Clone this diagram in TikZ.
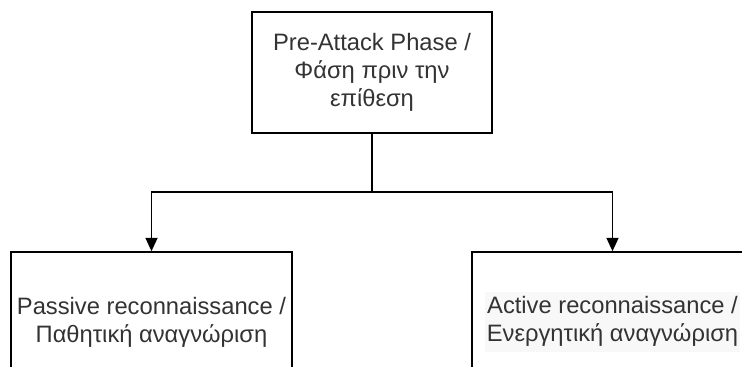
\documentclass[tikz,border=0pt]{standalone}
\usepackage{fontspec}
\setmainfont{Liberation Sans}
\usepackage{xcolor}
\usepackage{tikz}
\usetikzlibrary{positioning, arrows.meta}
\definecolor{InkGry} {HTML}{333333}
\definecolor{HiGry}  {HTML}{F8F8F8}
\tikzset{
  phasebox/.style={draw=black, line width=1.2pt, fill=white, align=center,
    text=InkGry, font=\fontsize{17.8}{21}\selectfont, inner sep=0pt},
  branch/.style={draw=black, line width=1.2pt},
}

\begin{document}
\begin{tikzpicture}[x=0.75pt, y=-0.75pt]
      % ── frame (reference is cut at the bottom and right) ─────────────────────
      \useasboundingbox (0,0) rectangle (742,367);
      \clip (0,0) rectangle (742,367);

      % ── boxes ────────────────────────────────────────────────────────────────
      \node[phasebox, minimum width=180pt, minimum height=90.75pt]
        (pre) at (372, 72.5) {Pre-Attack Phase /\\Φάση πριν την\\επίθεση};
      \node[phasebox, minimum width=210.75pt, minimum height=105pt]
        (passive) at (151.5, 322) {Passive reconnaissance /\\Παθητική αναγνώριση};
      \node[phasebox, minimum width=210.75pt, minimum height=105pt]
        (active) at (612.5, 322)
        {\setlength{\fboxsep}{1.5pt}\colorbox{HiGry}{\begin{tabular}{@{}c@{}}Active reconnaissance /\\Ενεργητική αναγνώριση\end{tabular}}};

      % ── connectors ───────────────────────────────────────────────────────────
      \coordinate (fork) at (372, 192);
      \draw[branch] (pre.south) -- (fork);
      \draw[branch, -{Triangle[width=9pt, length=10pt]}] (fork) -| (passive.north);
      \draw[branch, -{Triangle[width=9pt, length=10pt]}] (fork) -| (active.north);
    \end{tikzpicture}
\end{document}
